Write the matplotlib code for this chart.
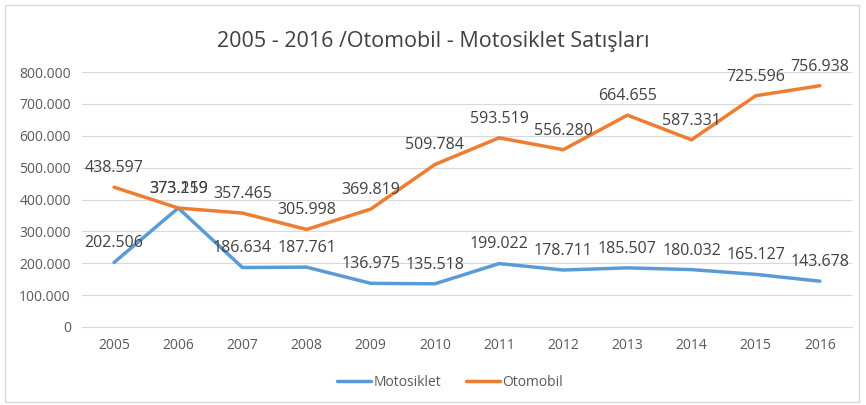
import matplotlib
matplotlib.use("Agg")
import matplotlib.pyplot as plt
from matplotlib.patches import Rectangle

years = ["2005", "2006", "2007", "2008", "2009", "2010", "2011", "2012", "2013", "2014", "2015", "2016"]
motosiklet = [202506, 373219, 186634, 187761, 136975, 135518, 199022, 178711, 185507, 180032, 165127, 143678]
otomobil = [438597, 373159, 357465, 305998, 369819, 509784, 593519, 556280, 664655, 587331, 725596, 756938]
yticks = [0, 100000, 200000, 300000, 400000, 500000, 600000, 700000, 800000]

def fmt(v):
    return f"{v:,}".replace(",", ".")

plt.rcParams['font.family'] = ['Open Sans', 'DejaVu Sans']
W, H = 866, 405
fig = plt.figure(figsize=(W / 100, H / 100), dpi=100)
ax = fig.add_axes([82 / W, 78 / H, (852 - 82) / W, (327 - 72) / H])

fig.patches.append(Rectangle((5 / W, 3 / H), (859 - 5) / W, (400 - 3) / H, transform=fig.transFigure,
                             fill=False, edgecolor="#D9D9D9", linewidth=1))

x = list(range(len(years)))
blue = "#5B9BD5"
orange = "#ED7D31"
ax.plot(x, motosiklet, color=blue, linewidth=2.5, label="Motosiklet", solid_capstyle="round")
ax.plot(x, otomobil, color=orange, linewidth=2.5, label="Otomobil", solid_capstyle="round")

txt = "#404040"
for xi, v in zip(x, motosiklet):
    ax.annotate(fmt(v), (xi, v), xytext=(0, 8), textcoords="offset points", ha="center", va="bottom",
                fontsize=11.5, color=txt)
for xi, v in zip(x, otomobil):
    ax.annotate(fmt(v), (xi, v), xytext=(0, 8), textcoords="offset points", ha="center", va="bottom",
                fontsize=11.5, color=txt)

ax.set_xlim(-0.5, len(years) - 0.5)
ax.set_ylim(0, 800000)
ax.set_yticks(yticks)
ax.set_yticklabels([fmt(v) for v in yticks])
ax.set_xticks(x)
ax.set_xticklabels(years)
ax.tick_params(axis="both", length=0, labelsize=10, colors="#595959", pad=8)
ax.grid(axis="y", color="#D9D9D9", linewidth=0.8)
ax.set_axisbelow(True)
for s in ["top", "right", "left"]:
    ax.spines[s].set_visible(False)
ax.spines["bottom"].set_color("#D9D9D9")

fig.text(0.5, 1 - 41 / H, "2005 - 2016 /Otomobil - Motosiklet Satışları", ha="center", va="center",
         fontsize=15.5, color="#404040")

fig.legend(loc="center", bbox_to_anchor=(0.52, 1 - 382 / H), ncol=2, frameon=False, fontsize=10,
           handlelength=2.4, columnspacing=1.8, handletextpad=0.2, labelcolor="#595959")

fig.savefig("out.png", dpi=100)
